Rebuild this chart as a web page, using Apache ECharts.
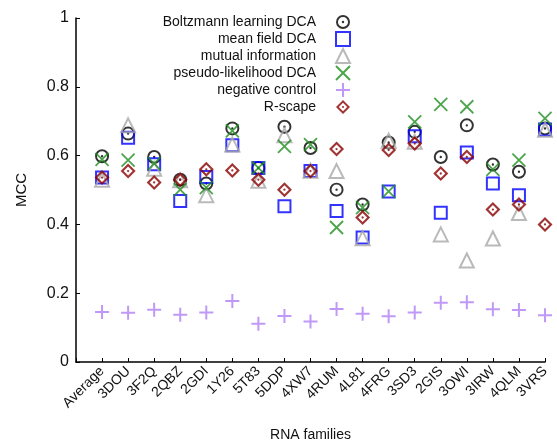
<!DOCTYPE html>
<html><head><meta charset="utf-8">
<script src="https://cdn.jsdelivr.net/npm/echarts@6/dist/echarts.min.js"></script>
<style>html,body{margin:0;padding:0;background:#fff}#c{width:557px;height:444px}</style>
</head><body><div id="c"></div>
<script>
const categories = ['Average','3DOU','3F2Q','2QBZ','2GDI','1Y26','5T83','5DDP','4XW7','4RUM','4L81','4FRG','3SD3','2GIS','3OWI','3IRW','4QLM','3VRS'];
const yTicks = [0, 0.2, 0.4, 0.6, 0.8, 1];
const boltzmann = [0.598,0.664,0.596,0.530,0.519,0.679,0.564,0.684,0.622,0.501,0.458,0.638,0.669,0.596,0.688,0.574,0.553,0.679];
const meanField = [0.536,0.652,0.575,0.468,0.538,0.630,0.564,0.453,0.555,0.439,0.362,0.496,0.656,0.434,0.609,0.519,0.485,0.676];
const mutualInfo = [0.530,0.688,0.562,0.528,0.485,0.632,0.527,0.659,0.556,0.555,0.360,0.643,0.640,0.371,0.295,0.359,0.433,0.675];
const pseudoLik = [0.589,0.587,0.577,0.501,0.507,0.672,0.564,0.627,0.632,0.391,0.449,0.496,0.698,0.749,0.742,0.560,0.587,0.708];
const negControl = [0.145,0.143,0.152,0.137,0.144,0.177,0.111,0.134,0.118,0.154,0.140,0.133,0.144,0.172,0.174,0.153,0.151,0.136];
const rscape = [0.536,0.555,0.522,0.530,0.560,0.557,0.530,0.501,0.555,0.619,0.420,0.616,0.635,0.548,0.596,0.443,0.458,0.400];

const toPts = arr => arr.map((v, i) => [i, v]);
const circleDot = 'path://M12 2A10 10 0 1 1 12 22A10 10 0 1 1 12 2ZM12 4.8A7.2 7.2 0 1 0 12 19.2A7.2 7.2 0 1 0 12 4.8ZM12 10.3A1.7 1.7 0 1 1 12 13.7A1.7 1.7 0 1 1 12 10.3Z';
const diamondDot = 'path://M12 1L23 12L12 23L1 12ZM12 5.4L5.4 12L12 18.6L18.6 12ZM12 10.3A1.7 1.7 0 1 1 12 13.7A1.7 1.7 0 1 1 12 10.3Z';
const xPath = 'path://M0 0L10 10M10 0L0 10';
const plusPath = 'path://M5 0L5 10M0 5L10 5';

const chart = echarts.init(document.getElementById('c'));
const font = '"Liberation Sans", Arial, sans-serif';
function mk(name, data, symbol, size, style) {
  return { name, type: 'scatter', data: toPts(data), symbol, symbolSize: size,
    itemStyle: style, emphasis: { disabled: true }, z: 3 };
}
chart.setOption({
  animation: false,
  textStyle: { fontFamily: font },
  grid: { left: 76, right: 12, top: 18, bottom: 82, containLabel: false, outerBoundsMode: 'none' },
  legend: {
    orient: 'vertical', align: 'right', right: 201, top: 9, itemGap: 1,
    itemWidth: 14, itemHeight: 14,
    textStyle: { fontSize: 14, lineHeight: 16, color: '#111', fontFamily: font, padding: [0, 15, 0, 0] },
    selectedMode: false,
    data: ['Boltzmann learning DCA','mean field DCA','mutual information','pseudo-likelihood DCA','negative control','R-scape']
  },
  xAxis: {
    type: 'value', min: -1, max: categories.length - 1, interval: 1,
    name: 'RNA families', nameLocation: 'middle', nameGap: 66,
    nameTextStyle: { fontSize: 14, color: '#111' },
    axisLine: { lineStyle: { color: '#000', width: 1.5 } },
    axisTick: { inside: true, length: 4, lineStyle: { color: '#000' } },
    splitLine: { show: false },
    axisLabel: { rotate: 45, fontSize: 14, color: '#111', margin: 7,
      formatter: v => (v >= 0 && categories[v]) ? categories[v] : '' }
  },
  yAxis: {
    type: 'value', min: yTicks[0], max: yTicks[yTicks.length - 1], interval: 0.2,
    name: 'MCC', nameLocation: 'middle', nameGap: 47,
    nameTextStyle: { fontSize: 15, color: '#111' },
    axisLine: { show: true, onZero: false, lineStyle: { color: '#000', width: 1.5 } },
    axisTick: { inside: true, length: 4, lineStyle: { color: '#000' } },
    splitLine: { show: false },
    axisLabel: { fontSize: 16, color: '#111', margin: 7, formatter: v => String(+v.toFixed(1)) }
  },
  series: [
    mk('Boltzmann learning DCA', boltzmann, circleDot, 14, { color: '#000' }),
    mk('mean field DCA', meanField, 'rect', 12, { color: 'rgba(0,0,0,0)', borderColor: '#0000ff', borderWidth: 2 }),
    mk('mutual information', mutualInfo, 'triangle', 14, { color: 'rgba(0,0,0,0)', borderColor: '#a8a8a8', borderWidth: 2 }),
    mk('pseudo-likelihood DCA', pseudoLik, xPath, 13, { color: 'rgba(0,0,0,0)', borderColor: '#1f8f1f', borderWidth: 1.8 }),
    mk('negative control', negControl, plusPath, 14, { color: 'rgba(0,0,0,0)', borderColor: '#b07ff5', borderWidth: 2 }),
    mk('R-scape', rscape, diamondDot, 15, { color: '#8b0000' })
  ]
});
</script></body></html>
